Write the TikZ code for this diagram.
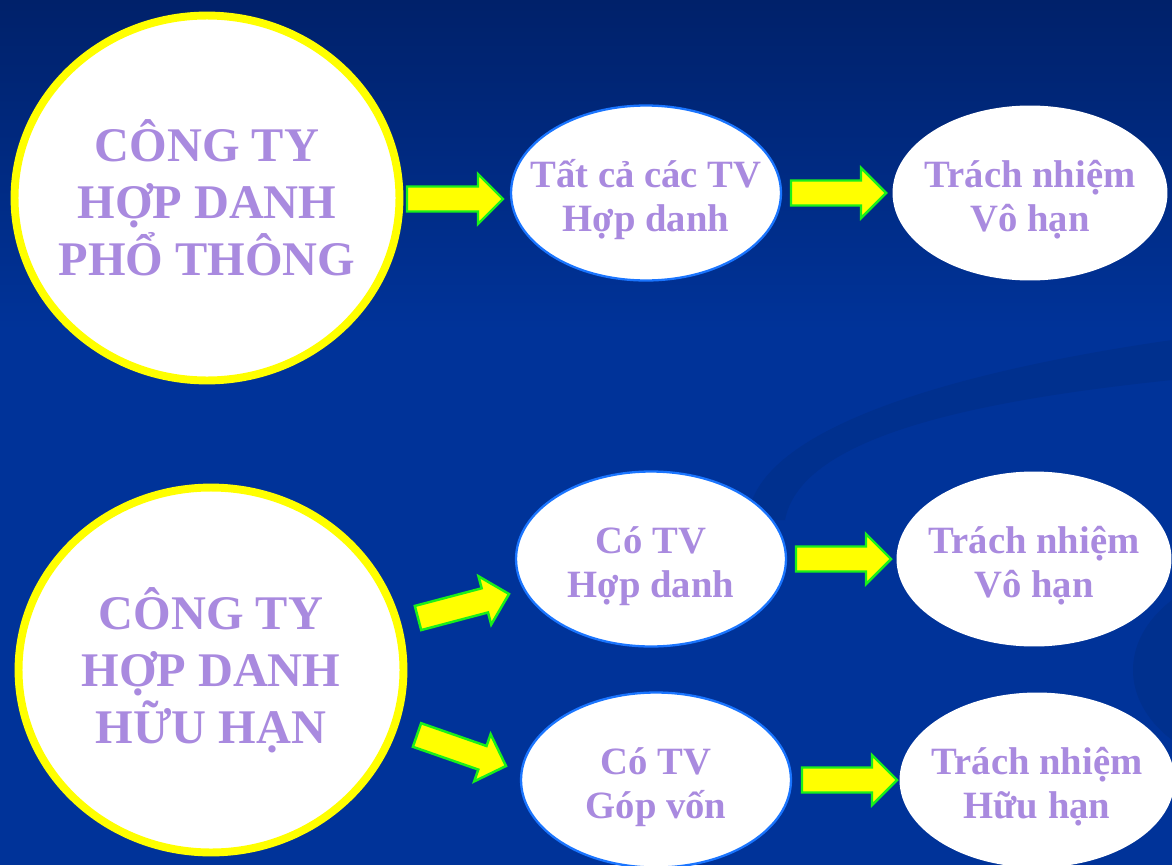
\documentclass[tikz,border=0pt]{standalone}
\usepackage{fontspec}
\setmainfont{Liberation Serif}
\usetikzlibrary{calc,positioning,shapes.geometric}
\definecolor{bgtop}{HTML}{00216A}
\definecolor{bgbase}{HTML}{003399}
\definecolor{swirlcol}{HTML}{00308E}
\definecolor{txtcol}{HTML}{A98ADF}
\definecolor{ringcol}{HTML}{FFFF00}
\definecolor{edgeblue}{HTML}{1A75FF}
\definecolor{arrowgreen}{HTML}{1AF01A}
\newcommand{\lowertext}{\rule{0pt}{23.5pt}}
\tikzset{
  company/.style={ellipse,draw=ringcol,line width=4.5pt,fill=white,inner xsep=-1cm,
    minimum width=7.7cm,minimum height=7.3cm,align=center,text=txtcol,
    font=\fontsize{27.5}{32.5}\selectfont\bfseries},
  member/.style={ellipse,draw=edgeblue,line width=1.3pt,fill=white,inner xsep=-1cm,
    minimum width=5.4cm,minimum height=3.5cm,align=center,text=txtcol,
    font=\fontsize{22}{25}\selectfont\bfseries},
  liability/.style={member,draw=none,minimum width=5.5cm},
  blockarrow/.style={fill=ringcol,draw=arrowgreen,line width=1.4pt,
    to path={($(\tikztostart)!0.25cm!90:(\tikztotarget)$)
      -- ($(\tikztotarget)!0.5cm!(\tikztostart)!0.25cm!90:(\tikztotarget)$)
      -- ($(\tikztotarget)!0.5cm!(\tikztostart)!0.5cm!90:(\tikztotarget)$)
      -- (\tikztotarget)
      -- ($(\tikztotarget)!0.5cm!(\tikztostart)!0.5cm!-90:(\tikztotarget)$)
      -- ($(\tikztotarget)!0.5cm!(\tikztostart)!0.25cm!-90:(\tikztotarget)$)
      -- ($(\tikztostart)!0.25cm!-90:(\tikztotarget)$) -- cycle}},
}
\begin{document}
\begin{tikzpicture}[x=0.02cm,y=-0.02cm]
  % --- Definitions ---
  \def\W{1172}   % slide width (px)
  \def\H{865}    % slide height (px)

  % --- 1. Background ---
  \useasboundingbox (0,0) rectangle (\W,\H);
  \fill[bgbase] (0,0) rectangle (\W,\H);
  \shade[top color=bgtop,bottom color=bgbase] (0,0) rectangle (\W,330);
  % faint swirls on the right
  \fill[swirlcol] (748,520) .. controls (752,430) and (950,372) .. (\W,340)
    -- (\W,380) .. controls (960,402) and (800,440) .. (785,520) -- cycle;
  \fill[swirlcol] (\W,600) .. controls (1120,640) and (1120,700) .. (\W,740) -- cycle;

  % --- 2. Companies ---
  \node[company] (pt) at (207,198) {CÔNG TY\\HỢP DANH\\PHỔ THÔNG};
  \node[company] (hh) at (211,670) {CÔNG TY\\HỢP DANH\\HỮU HẠN};

  % --- 3. Members and liability ---
  \node[member] (tv1) at (646,193) {\lowertext Tất cả các TV\\Hợp danh};
  \node[liability] (tn1) at (1030,193) {\lowertext Trách nhiệm\\Vô hạn};

  \node[member] (tv2) at (651,559) {\lowertext Có TV\\Hợp danh};
  \node[liability] (tn2) at (1034,559) {\lowertext Trách nhiệm\\Vô hạn};

  \node[member] (tv3) at (656,780) {\lowertext Có TV\\Góp vốn};
  \node[liability] (tn3) at (1037,780) {\lowertext Trách nhiệm\\Hữu hạn};

  % --- 4. Block arrows ---
  \coordinate (a1s) at (407,199);  \coordinate (a1e) at (503,199);
  \coordinate (a2s) at (791,193);  \coordinate (a2e) at (886,193);
  \coordinate (a3s) at (418,618);  \coordinate (a3e) at (509,594);
  \coordinate (a4s) at (417,735);  \coordinate (a4e) at (506,766);
  \coordinate (a5s) at (796,559);  \coordinate (a5e) at (891,559);
  \coordinate (a6s) at (802,780);  \coordinate (a6e) at (897,780);

  \foreach \a in {a1,a2,a3,a4,a5,a6} {%
    \draw[blockarrow] (\a s) to (\a e);
  }
\end{tikzpicture}
\end{document}
